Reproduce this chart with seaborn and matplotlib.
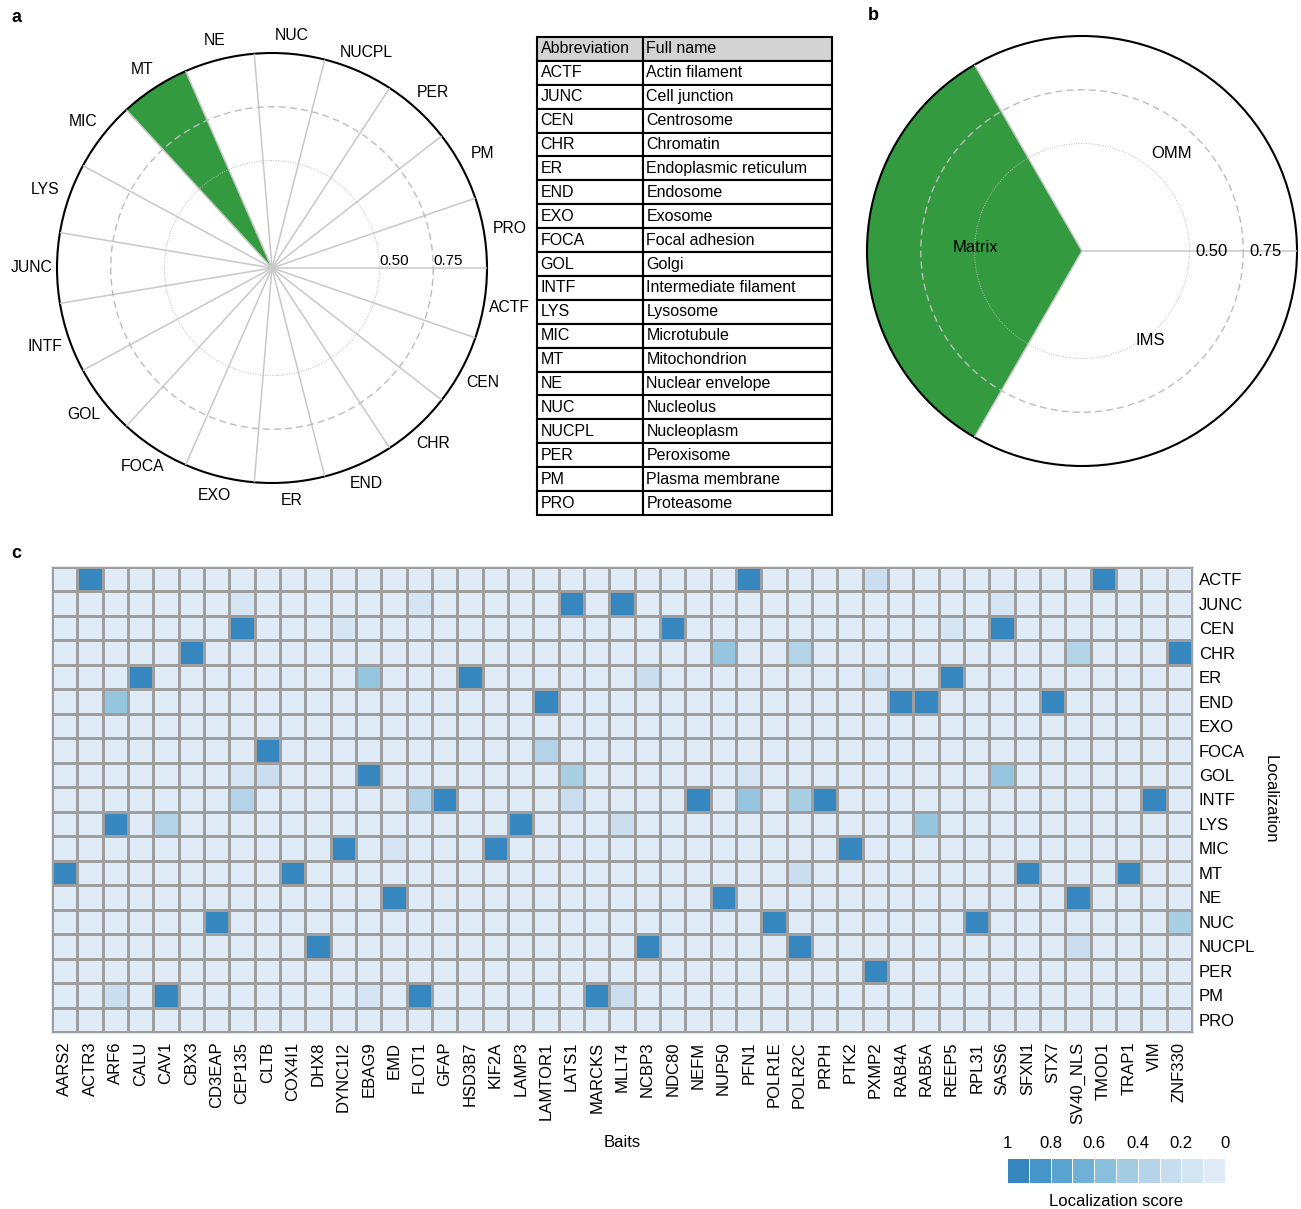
import numpy as np
import pandas as pd
import matplotlib

matplotlib.use('Agg')
import matplotlib.pyplot as plt
from matplotlib.colors import ListedColormap
import seaborn as sns

# panel a: localization categories on the polar plot (alphabetical, clockwise)
polar_locs = ['ACTF', 'CEN', 'CHR', 'END', 'ER', 'EXO', 'FOCA', 'GOL', 'INTF', 'JUNC',
              'LYS', 'MIC', 'MT', 'NE', 'NUC', 'NUCPL', 'PER', 'PM', 'PRO']
polar_scores = [0, 0, 0, 0, 0, 0, 0, 0, 0, 0, 0, 0, 1.0, 0, 0, 0, 0, 0, 0]

# panel b: mitochondrial sub-compartments
mito_parts = ['IMS', 'Matrix', 'OMM']
mito_scores = [0, 1.0, 0]

# abbreviation table
abbrevs = ['ACTF', 'JUNC', 'CEN', 'CHR', 'ER', 'END', 'EXO', 'FOCA', 'GOL', 'INTF',
           'LYS', 'MIC', 'MT', 'NE', 'NUC', 'NUCPL', 'PER', 'PM', 'PRO']
full_names = ['Actin filament', 'Cell junction', 'Centrosome', 'Chromatin',
              'Endoplasmic reticulum', 'Endosome', 'Exosome', 'Focal adhesion', 'Golgi',
              'Intermediate filament', 'Lysosome', 'Microtubule', 'Mitochondrion',
              'Nuclear envelope', 'Nucleolus', 'Nucleoplasm', 'Peroxisome',
              'Plasma membrane', 'Proteasome']

# panel c: baits x localization scores (cells not listed are 0)
baits = ['AARS2', 'ACTR3', 'ARF6', 'CALU', 'CAV1', 'CBX3', 'CD3EAP', 'CEP135', 'CLTB',
         'COX4I1', 'DHX8', 'DYNC1I2', 'EBAG9', 'EMD', 'FLOT1', 'GFAP', 'HSD3B7', 'KIF2A',
         'LAMP3', 'LAMTOR1', 'LATS1', 'MARCKS', 'MLLT4', 'NCBP3', 'NDC80', 'NEFM', 'NUP50',
         'PFN1', 'POLR1E', 'POLR2C', 'PRPH', 'PTK2', 'PXMP2', 'RAB4A', 'RAB5A', 'REEP5',
         'RPL31', 'SASS6', 'SFXN1', 'STX7', 'SV40_NLS', 'TMOD1', 'TRAP1', 'VIM', 'ZNF330']
heat_locs = abbrevs

hit_loc = ['ACTF'] * 4 + ['JUNC'] * 5 + ['CEN'] * 5 + ['CHR'] * 5 + ['ER'] * 6 + \
          ['END'] * 5 + ['FOCA'] * 2 + ['GOL'] * 6 + ['INTF'] * 9 + ['LYS'] * 5 + \
          ['MIC'] * 4 + ['MT'] * 5 + ['NE'] * 3 + ['NUC'] * 4 + ['NUCPL'] * 4 + \
          ['PER'] * 1 + ['PM'] * 6
hit_bait = [
    'ACTR3', 'PFN1', 'PXMP2', 'TMOD1',
    'CEP135', 'FLOT1', 'LATS1', 'MLLT4', 'SASS6',
    'CEP135', 'DYNC1I2', 'NDC80', 'REEP5', 'SASS6',
    'CBX3', 'NUP50', 'POLR2C', 'SV40_NLS', 'ZNF330',
    'CALU', 'EBAG9', 'HSD3B7', 'NCBP3', 'PXMP2', 'REEP5',
    'ARF6', 'LAMTOR1', 'RAB4A', 'RAB5A', 'STX7',
    'CLTB', 'LAMTOR1',
    'CEP135', 'CLTB', 'EBAG9', 'LATS1', 'PFN1', 'SASS6',
    'CEP135', 'FLOT1', 'GFAP', 'LATS1', 'NEFM', 'PFN1', 'POLR2C', 'PRPH', 'VIM',
    'ARF6', 'CAV1', 'LAMP3', 'MLLT4', 'RAB5A',
    'DYNC1I2', 'EMD', 'KIF2A', 'PTK2',
    'AARS2', 'COX4I1', 'POLR2C', 'SFXN1', 'TRAP1',
    'EMD', 'NUP50', 'SV40_NLS',
    'CD3EAP', 'POLR1E', 'RPL31', 'ZNF330',
    'DHX8', 'NCBP3', 'POLR2C', 'SV40_NLS',
    'PXMP2',
    'ARF6', 'CAV1', 'EBAG9', 'FLOT1', 'MARCKS', 'MLLT4',
]
hit_score = [
    1.0, 1.0, 0.2, 1.0,
    0.1, 0.1, 1.0, 1.0, 0.1,
    1.0, 0.1, 1.0, 0.1, 1.0,
    1.0, 0.5, 0.35, 0.35, 1.0,
    1.0, 0.5, 1.0, 0.2, 0.1, 1.0,
    0.5, 1.0, 1.0, 1.0, 1.0,
    1.0, 0.35,
    0.1, 0.2, 1.0, 0.4, 0.1, 0.5,
    0.35, 0.35, 1.0, 0.2, 1.0, 0.5, 0.4, 1.0, 1.0,
    1.0, 0.35, 1.0, 0.2, 0.5,
    1.0, 0.1, 1.0, 1.0,
    1.0, 1.0, 0.2, 1.0, 1.0,
    1.0, 1.0, 1.0,
    1.0, 1.0, 1.0, 0.4,
    1.0, 1.0, 1.0, 0.2,
    1.0,
    0.2, 1.0, 0.1, 1.0, 1.0, 0.2,
]

# colour key of the heatmap
key_values = [1.0, 0.89, 0.78, 0.67, 0.56, 0.44, 0.33, 0.22, 0.11, 0.0]
key_ticks = ['1', '0.8', '0.6', '0.4', '0.2', '0']

# label positions for panel b (axes fraction)
mito_label_xy = [(0.658, 0.291), (0.253, 0.509), (0.709, 0.726)]

GREEN = '#339a40'
W, H = 1301, 1209

sns.set_style('white')
plt.rcParams['font.family'] = ['Liberation Sans', 'DejaVu Sans']
for key in ['text.color', 'axes.labelcolor', 'xtick.color', 'ytick.color']:
    plt.rcParams[key] = 'black'

blues = sns.color_palette('Blues', as_cmap=True)
cmap = ListedColormap(blues(np.linspace(0.12, 0.67, 256)))


def px_axes(fig, x0, y0, x1, y1, **kw):
    return fig.add_axes([x0 / W, 1 - y1 / H, (x1 - x0) / W, (y1 - y0) / H], **kw)


def polar_panel(ax, names, scores):
    n = len(names)
    width = 2 * np.pi / n
    centers = (np.arange(n) + 0.5) * width
    ax.set_theta_zero_location('E')
    ax.set_theta_direction(-1)
    ax.bar(centers, scores, width=width, bottom=0, color=GREEN, edgecolor='none', zorder=1)
    ax.set_ylim(0, 1)
    ax.set_xticks(np.arange(n) * width)
    ax.set_xticklabels([])
    ax.set_yticks([0.5, 0.75])
    ax.set_yticklabels([])
    ax.tick_params(length=0)
    ax.xaxis.grid(True, color='#c8c8c8', lw=1.1, ls='-')
    ax.yaxis.grid(True, color='#bdbdbd')
    gl = ax.yaxis.get_gridlines()
    gl[0].set_linestyle((0, (1, 1.5)))
    gl[0].set_linewidth(0.7)
    gl[1].set_linestyle((0, (5, 3)))
    gl[1].set_linewidth(1.0)
    ax.set_axisbelow(False)
    ax.spines['polar'].set_linewidth(1.5)
    ax.spines['polar'].set_color('black')
    return centers


fig = plt.figure(figsize=(W / 100, H / 100), dpi=100)

# a: polar plot of localizations
ax_a = px_axes(fig, 57, 53, 487, 483, projection='polar')
centers = polar_panel(ax_a, polar_locs, polar_scores)
for name, c in zip(polar_locs, centers):
    # labels sit a little further out at the sides than at top/bottom
    r_lab = 1.08 + 0.04 * abs(np.cos(c))
    ax_a.text(c, r_lab, name, ha='center', va='center', fontsize=11.3, clip_on=False)
ax_a.text(0, 0.5, '0.50', ha='left', va='bottom', fontsize=11)
ax_a.text(0, 0.75, '0.75', ha='left', va='bottom', fontsize=11)

# abbreviation table
ax_t = px_axes(fig, 537, 37, 832, 515)
ax_t.axis('off')
tab = ax_t.table(cellText=[[a, f] for a, f in zip(abbrevs, full_names)],
                 colLabels=['Abbreviation', 'Full name'], cellLoc='left', colLoc='left',
                 colWidths=[106 / 295, 189 / 295], bbox=[0, 0, 1, 1])
tab.auto_set_font_size(False)
tab.set_fontsize(11.5)
for (r, c), cell in tab.get_celld().items():
    cell.set_edgecolor('black')
    cell.set_linewidth(1.5)
    cell.PAD = 0.035 if c == 0 else 0.018
    if r == 0:
        cell.set_facecolor('#d3d3d3')

# b: mitochondrial sub-compartments
ax_b = px_axes(fig, 867, 36, 1297, 466, projection='polar')
polar_panel(ax_b, mito_parts, mito_scores)
for name, (x, y) in zip(mito_parts, mito_label_xy):
    ax_b.text(x, y, name, transform=ax_b.transAxes, ha='center', va='center', fontsize=12)
ax_b.text(0, 0.525, '0.50', ha='left', va='center', fontsize=12)
ax_b.text(0, 0.777, '0.75', ha='left', va='center', fontsize=12)

# c: heatmap
score = pd.DataFrame(0.0, index=heat_locs, columns=baits)
for b, l, s in zip(hit_bait, hit_loc, hit_score):
    score.loc[l, b] = s

ax_c = px_axes(fig, 52, 567, 1192, 1032)
sns.heatmap(score, ax=ax_c, cmap=cmap, vmin=0, vmax=1, cbar=False,
            linewidths=1.0, linecolor='#9e9e9e', xticklabels=True, yticklabels=True)
ax_c.yaxis.tick_right()
ax_c.tick_params(axis='y', rotation=0, length=0, pad=5, labelsize=12)
ax_c.tick_params(axis='x', rotation=90, length=0, pad=7, labelsize=12)
for s in ax_c.spines.values():
    s.set_visible(True)
    s.set_color('#9e9e9e')
    s.set_linewidth(1.0)
ax_c.set_xlabel('Baits', fontsize=12, va='center')
ax_c.xaxis.set_label_coords(0.5, -0.2387)
ax_c.set_ylabel('Localization', fontsize=12, rotation=270, va='center', ha='center')
ax_c.yaxis.set_label_position('right')
ax_c.yaxis.set_label_coords(1.0754, 0.5)

# colour key
ax_k = px_axes(fig, 1007, 1158, 1225, 1183)
sns.heatmap(np.array([key_values]), ax=ax_k, cmap=cmap, vmin=0, vmax=1, cbar=False,
            linewidths=0.5, linecolor='white', xticklabels=False, yticklabels=False)
ax_k.set_xticks(np.linspace(0, 10, len(key_ticks)))
ax_k.set_xticklabels(key_ticks, fontsize=12)
ax_k.xaxis.tick_top()
ax_k.tick_params(axis='x', length=0, pad=5)
ax_k.set_xlabel('Localization score', fontsize=12, labelpad=8)
ax_k.xaxis.set_label_position('bottom')

# panel letters
fig.text(11 / W, 1 - 18 / H, 'a', fontsize=13, weight='bold', va='center')
fig.text(868 / W, 1 - 15 / H, 'b', fontsize=13, weight='bold', va='center')
fig.text(11 / W, 1 - 553 / H, 'c', fontsize=13, weight='bold', va='center')

fig.savefig('out.png', dpi=100)
